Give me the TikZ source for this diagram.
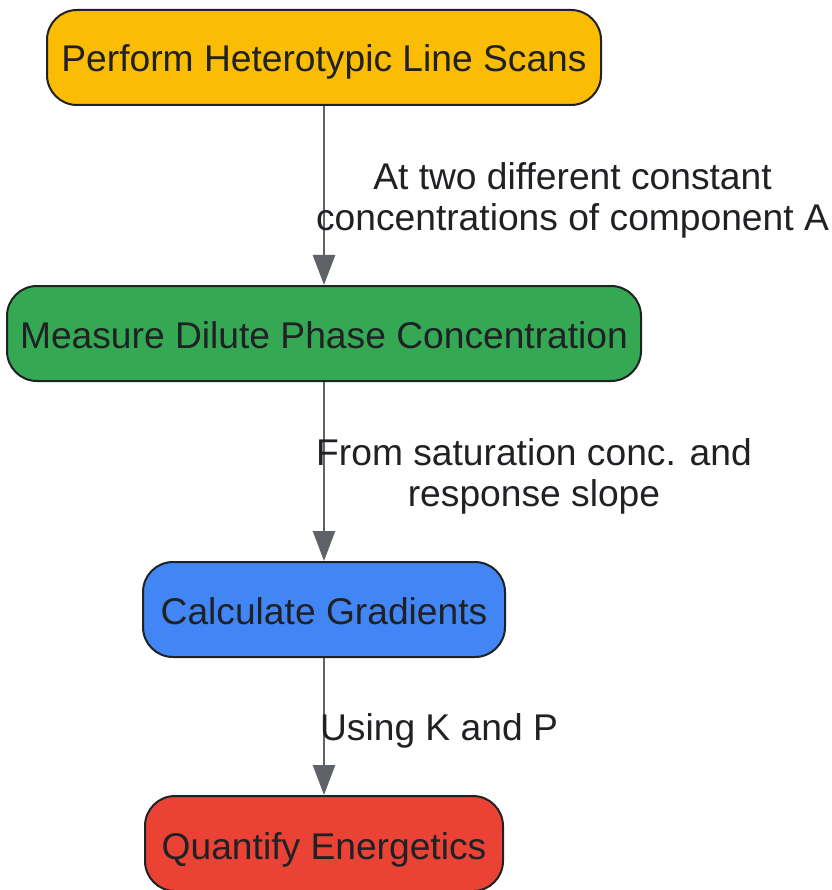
\documentclass[tikz,border=0pt]{standalone}
\usepackage{fontspec}
\setmainfont{Liberation Sans}
\usetikzlibrary{arrows.meta}
\definecolor{txt}{HTML}{202124}
\definecolor{edge}{HTML}{5F6368}
\definecolor{cy}{HTML}{FBBC04}
\definecolor{cg}{HTML}{34A853}
\definecolor{cb}{HTML}{4285F4}
\definecolor{cr}{HTML}{EA4335}
\newcommand{\boxtext}[2][14.5pt]{\raisebox{-#1}[0pt][0pt]{#2}}
\begin{document}
\begin{tikzpicture}[x=1pt,y=1pt,
  box/.style={draw=txt,line width=2pt,rounded corners=30pt,minimum height=95pt,inner sep=0pt,text=txt,font=\fontsize{37.2}{41}\selectfont},
  lab/.style={align=center,text=txt,font=\fontsize{37.2}{41}\selectfont,inner sep=0pt},
  arr/.style={draw=edge,line width=2.5pt,-{Triangle[width=22pt,length=30pt]}}]
\useasboundingbox (0,0) rectangle (831,-890);
\node[box,fill=cy,minimum width=554pt] (n1) at (324,-57.5) {\boxtext{Perform Heterotypic Line Scans}};
\node[box,fill=cg,minimum width=634pt] (n2) at (324,-333.5) {\boxtext{Measure Dilute Phase Concentration}};
\node[box,fill=cb,minimum width=362pt] (n3) at (324,-609.5) {\boxtext{Calculate Gradients}};
\node[box,fill=cr,minimum width=358pt] (n4) at (324,-843.5) {\boxtext[15.5pt]{Quantify Energetics}};
\draw[arr] (n1.south) -- (n2.north);
\draw[arr] (n2.south) -- (n3.north);
\draw[arr] (n3.south) -- (n4.north);
\node[lab] (l1) at (572.5,-200) {At two different constant\\concentrations of component A};
\node[lab] (l2) at (534,-476) {From saturation conc. and\\response slope};
\node[lab] (l3) at (439,-731) {Using K and P};
\end{tikzpicture}
\end{document}
